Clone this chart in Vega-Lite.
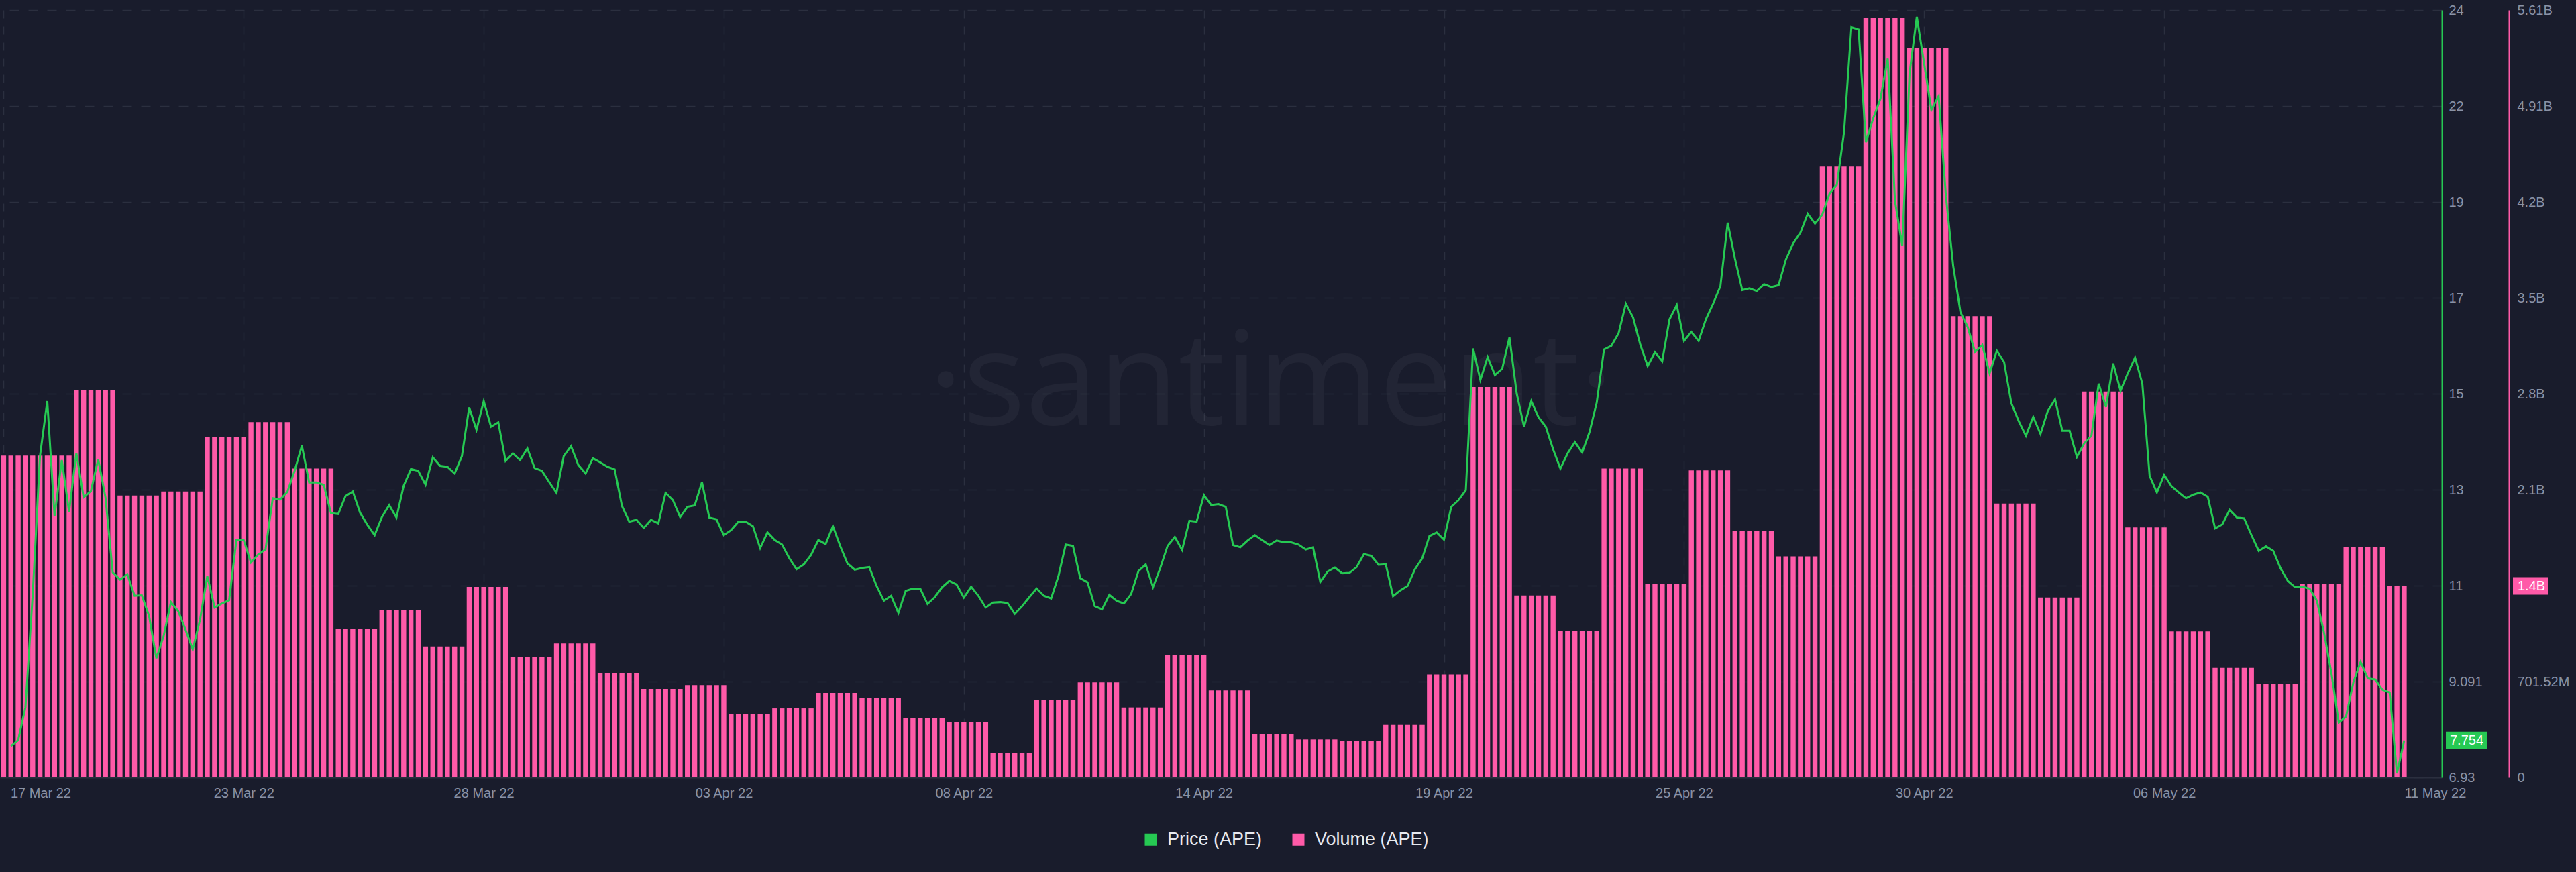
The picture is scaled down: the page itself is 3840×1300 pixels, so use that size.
{
"$schema": "https://vega.github.io/schema/vega-lite/v6.json",
"width": 3640,
"height": 1144,
"autosize": {"type": "none"},
"padding": {"left": 0, "top": 15, "right": 200, "bottom": 141},
"background": "#191c2c",
"config": {
  "view": {"stroke": null},
  "font": "Liberation Sans",
  "axis": {"labelFont": "Liberation Sans", "labelFontSize": 20, "labelColor": "#8a92a6", "title": null, "ticks": false}
},
"data": {"values": [
{"t":"2022-03-17T12:00Z","p":null,"v":2354},
{"t":"2022-03-17T16:00Z","p":7.63,"v":2354},
{"t":"2022-03-17T20:00Z","p":7.76,"v":2354},
{"t":"2022-03-18T00:00Z","p":8.49,"v":2354},
{"t":"2022-03-18T04:00Z","p":11.0,"v":2354},
{"t":"2022-03-18T08:00Z","p":14.08,"v":2354},
{"t":"2022-03-18T12:00Z","p":15.30,"v":2354},
{"t":"2022-03-18T16:00Z","p":12.75,"v":2354},
{"t":"2022-03-18T20:00Z","p":13.99,"v":2354},
{"t":"2022-03-19T00:00Z","p":12.84,"v":2354},
{"t":"2022-03-19T04:00Z","p":14.14,"v":2833},
{"t":"2022-03-19T08:00Z","p":13.16,"v":2833},
{"t":"2022-03-19T12:00Z","p":13.30,"v":2833},
{"t":"2022-03-19T16:00Z","p":14.01,"v":2833},
{"t":"2022-03-19T20:00Z","p":13.16,"v":2833},
{"t":"2022-03-20T00:00Z","p":11.49,"v":2833},
{"t":"2022-03-20T04:00Z","p":11.33,"v":2062},
{"t":"2022-03-20T08:00Z","p":11.45,"v":2062},
{"t":"2022-03-20T12:00Z","p":10.97,"v":2062},
{"t":"2022-03-20T16:00Z","p":10.98,"v":2062},
{"t":"2022-03-20T20:00Z","p":10.52,"v":2062},
{"t":"2022-03-21T00:00Z","p":9.58,"v":2062},
{"t":"2022-03-21T04:00Z","p":10.08,"v":2091},
{"t":"2022-03-21T08:00Z","p":10.83,"v":2091},
{"t":"2022-03-21T12:00Z","p":10.63,"v":2091},
{"t":"2022-03-21T16:00Z","p":10.22,"v":2091},
{"t":"2022-03-21T20:00Z","p":9.78,"v":2091},
{"t":"2022-03-22T00:00Z","p":10.44,"v":2091},
{"t":"2022-03-22T04:00Z","p":11.41,"v":2490},
{"t":"2022-03-22T08:00Z","p":10.71,"v":2490},
{"t":"2022-03-22T12:00Z","p":10.80,"v":2490},
{"t":"2022-03-22T16:00Z","p":10.87,"v":2490},
{"t":"2022-03-22T20:00Z","p":12.21,"v":2490},
{"t":"2022-03-23T00:00Z","p":12.21,"v":2490},
{"t":"2022-03-23T04:00Z","p":11.71,"v":2599},
{"t":"2022-03-23T08:00Z","p":11.89,"v":2599},
{"t":"2022-03-23T12:00Z","p":12.00,"v":2599},
{"t":"2022-03-23T16:00Z","p":13.14,"v":2599},
{"t":"2022-03-23T20:00Z","p":13.11,"v":2599},
{"t":"2022-03-24T00:00Z","p":13.28,"v":2599},
{"t":"2022-03-24T04:00Z","p":13.75,"v":2259},
{"t":"2022-03-24T08:00Z","p":14.31,"v":2259},
{"t":"2022-03-24T12:00Z","p":13.49,"v":2259},
{"t":"2022-03-24T16:00Z","p":13.49,"v":2259},
{"t":"2022-03-24T20:00Z","p":13.44,"v":2259},
{"t":"2022-03-25T00:00Z","p":12.81,"v":2259},
{"t":"2022-03-25T04:00Z","p":12.79,"v":1086},
{"t":"2022-03-25T08:00Z","p":13.19,"v":1086},
{"t":"2022-03-25T12:00Z","p":13.29,"v":1086},
{"t":"2022-03-25T16:00Z","p":12.82,"v":1086},
{"t":"2022-03-25T20:00Z","p":12.55,"v":1086},
{"t":"2022-03-26T00:00Z","p":12.32,"v":1086},
{"t":"2022-03-26T04:00Z","p":12.72,"v":1221},
{"t":"2022-03-26T08:00Z","p":12.99,"v":1221},
{"t":"2022-03-26T12:00Z","p":12.71,"v":1221},
{"t":"2022-03-26T16:00Z","p":13.42,"v":1221},
{"t":"2022-03-26T20:00Z","p":13.79,"v":1221},
{"t":"2022-03-27T00:00Z","p":13.75,"v":1221},
{"t":"2022-03-27T04:00Z","p":13.44,"v":958},
{"t":"2022-03-27T08:00Z","p":14.05,"v":958},
{"t":"2022-03-27T12:00Z","p":13.86,"v":958},
{"t":"2022-03-27T16:00Z","p":13.84,"v":958},
{"t":"2022-03-27T20:00Z","p":13.69,"v":958},
{"t":"2022-03-28T00:00Z","p":14.08,"v":958},
{"t":"2022-03-28T04:00Z","p":15.16,"v":1393},
{"t":"2022-03-28T08:00Z","p":14.66,"v":1393},
{"t":"2022-03-28T12:00Z","p":15.30,"v":1393},
{"t":"2022-03-28T16:00Z","p":14.73,"v":1393},
{"t":"2022-03-28T20:00Z","p":14.83,"v":1393},
{"t":"2022-03-29T00:00Z","p":13.97,"v":1393},
{"t":"2022-03-29T04:00Z","p":14.14,"v":881},
{"t":"2022-03-29T08:00Z","p":13.99,"v":881},
{"t":"2022-03-29T12:00Z","p":14.25,"v":881},
{"t":"2022-03-29T16:00Z","p":13.81,"v":881},
{"t":"2022-03-29T20:00Z","p":13.75,"v":881},
{"t":"2022-03-30T00:00Z","p":13.50,"v":881},
{"t":"2022-03-30T04:00Z","p":13.26,"v":980},
{"t":"2022-03-30T08:00Z","p":14.08,"v":980},
{"t":"2022-03-30T12:00Z","p":14.30,"v":980},
{"t":"2022-03-30T16:00Z","p":13.88,"v":980},
{"t":"2022-03-30T20:00Z","p":13.69,"v":980},
{"t":"2022-03-31T00:00Z","p":14.03,"v":980},
{"t":"2022-03-31T04:00Z","p":13.94,"v":764},
{"t":"2022-03-31T08:00Z","p":13.84,"v":764},
{"t":"2022-03-31T12:00Z","p":13.78,"v":764},
{"t":"2022-03-31T16:00Z","p":12.97,"v":764},
{"t":"2022-03-31T20:00Z","p":12.62,"v":764},
{"t":"2022-04-01T00:00Z","p":12.66,"v":764},
{"t":"2022-04-01T04:00Z","p":12.48,"v":647},
{"t":"2022-04-01T08:00Z","p":12.66,"v":647},
{"t":"2022-04-01T12:00Z","p":12.58,"v":647},
{"t":"2022-04-01T16:00Z","p":13.26,"v":647},
{"t":"2022-04-01T20:00Z","p":13.10,"v":647},
{"t":"2022-04-02T00:00Z","p":12.72,"v":647},
{"t":"2022-04-02T04:00Z","p":12.95,"v":676},
{"t":"2022-04-02T08:00Z","p":12.98,"v":676},
{"t":"2022-04-02T12:00Z","p":13.50,"v":676},
{"t":"2022-04-02T16:00Z","p":12.71,"v":676},
{"t":"2022-04-02T20:00Z","p":12.67,"v":676},
{"t":"2022-04-03T00:00Z","p":12.32,"v":676},
{"t":"2022-04-03T04:00Z","p":12.43,"v":464},
{"t":"2022-04-03T08:00Z","p":12.62,"v":464},
{"t":"2022-04-03T12:00Z","p":12.62,"v":464},
{"t":"2022-04-03T16:00Z","p":12.52,"v":464},
{"t":"2022-04-03T20:00Z","p":12.03,"v":464},
{"t":"2022-04-04T00:00Z","p":12.38,"v":464},
{"t":"2022-04-04T04:00Z","p":12.21,"v":505},
{"t":"2022-04-04T08:00Z","p":12.11,"v":505},
{"t":"2022-04-04T12:00Z","p":11.81,"v":505},
{"t":"2022-04-04T16:00Z","p":11.56,"v":505},
{"t":"2022-04-04T20:00Z","p":11.67,"v":505},
{"t":"2022-04-05T00:00Z","p":11.88,"v":505},
{"t":"2022-04-05T04:00Z","p":12.21,"v":618},
{"t":"2022-04-05T08:00Z","p":12.12,"v":618},
{"t":"2022-04-05T12:00Z","p":12.52,"v":618},
{"t":"2022-04-05T16:00Z","p":12.08,"v":618},
{"t":"2022-04-05T20:00Z","p":11.69,"v":618},
{"t":"2022-04-06T00:00Z","p":11.55,"v":618},
{"t":"2022-04-06T04:00Z","p":11.59,"v":581},
{"t":"2022-04-06T08:00Z","p":11.61,"v":581},
{"t":"2022-04-06T12:00Z","p":11.19,"v":581},
{"t":"2022-04-06T16:00Z","p":10.86,"v":581},
{"t":"2022-04-06T20:00Z","p":10.97,"v":581},
{"t":"2022-04-07T00:00Z","p":10.59,"v":581},
{"t":"2022-04-07T04:00Z","p":11.08,"v":435},
{"t":"2022-04-07T08:00Z","p":11.13,"v":435},
{"t":"2022-04-07T12:00Z","p":11.13,"v":435},
{"t":"2022-04-07T16:00Z","p":10.79,"v":435},
{"t":"2022-04-07T20:00Z","p":10.94,"v":435},
{"t":"2022-04-08T00:00Z","p":11.16,"v":435},
{"t":"2022-04-08T04:00Z","p":11.30,"v":406},
{"t":"2022-04-08T08:00Z","p":11.22,"v":406},
{"t":"2022-04-08T12:00Z","p":10.93,"v":406},
{"t":"2022-04-08T16:00Z","p":11.17,"v":406},
{"t":"2022-04-08T20:00Z","p":10.97,"v":406},
{"t":"2022-04-09T00:00Z","p":10.71,"v":406},
{"t":"2022-04-09T04:00Z","p":10.82,"v":179},
{"t":"2022-04-09T08:00Z","p":10.83,"v":179},
{"t":"2022-04-09T12:00Z","p":10.81,"v":179},
{"t":"2022-04-09T16:00Z","p":10.57,"v":179},
{"t":"2022-04-09T20:00Z","p":10.74,"v":179},
{"t":"2022-04-10T00:00Z","p":10.94,"v":179},
{"t":"2022-04-10T04:00Z","p":11.13,"v":567},
{"t":"2022-04-10T08:00Z","p":10.97,"v":567},
{"t":"2022-04-10T12:00Z","p":10.91,"v":567},
{"t":"2022-04-10T16:00Z","p":11.41,"v":567},
{"t":"2022-04-10T20:00Z","p":12.11,"v":567},
{"t":"2022-04-11T00:00Z","p":12.08,"v":567},
{"t":"2022-04-11T04:00Z","p":11.36,"v":695},
{"t":"2022-04-11T08:00Z","p":11.27,"v":695},
{"t":"2022-04-11T12:00Z","p":10.74,"v":695},
{"t":"2022-04-11T16:00Z","p":10.67,"v":695},
{"t":"2022-04-11T20:00Z","p":10.99,"v":695},
{"t":"2022-04-12T00:00Z","p":10.86,"v":695},
{"t":"2022-04-12T04:00Z","p":10.80,"v":512},
{"t":"2022-04-12T08:00Z","p":11.01,"v":512},
{"t":"2022-04-12T12:00Z","p":11.52,"v":512},
{"t":"2022-04-12T16:00Z","p":11.67,"v":512},
{"t":"2022-04-12T20:00Z","p":11.16,"v":512},
{"t":"2022-04-13T00:00Z","p":11.59,"v":512},
{"t":"2022-04-13T04:00Z","p":12.08,"v":896},
{"t":"2022-04-13T08:00Z","p":12.28,"v":896},
{"t":"2022-04-13T12:00Z","p":11.99,"v":896},
{"t":"2022-04-13T16:00Z","p":12.64,"v":896},
{"t":"2022-04-13T20:00Z","p":12.62,"v":896},
{"t":"2022-04-14T00:00Z","p":13.21,"v":896},
{"t":"2022-04-14T04:00Z","p":12.99,"v":636},
{"t":"2022-04-14T08:00Z","p":13.01,"v":636},
{"t":"2022-04-14T12:00Z","p":12.95,"v":636},
{"t":"2022-04-14T16:00Z","p":12.10,"v":636},
{"t":"2022-04-14T20:00Z","p":12.05,"v":636},
{"t":"2022-04-15T00:00Z","p":12.20,"v":636},
{"t":"2022-04-15T04:00Z","p":12.32,"v":318},
{"t":"2022-04-15T08:00Z","p":12.21,"v":318},
{"t":"2022-04-15T12:00Z","p":12.10,"v":318},
{"t":"2022-04-15T16:00Z","p":12.20,"v":318},
{"t":"2022-04-15T20:00Z","p":12.16,"v":318},
{"t":"2022-04-16T00:00Z","p":12.16,"v":318},
{"t":"2022-04-16T04:00Z","p":12.11,"v":278},
{"t":"2022-04-16T08:00Z","p":12.00,"v":278},
{"t":"2022-04-16T12:00Z","p":12.05,"v":278},
{"t":"2022-04-16T16:00Z","p":11.28,"v":278},
{"t":"2022-04-16T20:00Z","p":11.51,"v":278},
{"t":"2022-04-17T00:00Z","p":11.60,"v":278},
{"t":"2022-04-17T04:00Z","p":11.47,"v":267},
{"t":"2022-04-17T08:00Z","p":11.48,"v":267},
{"t":"2022-04-17T12:00Z","p":11.61,"v":267},
{"t":"2022-04-17T16:00Z","p":11.90,"v":267},
{"t":"2022-04-17T20:00Z","p":11.86,"v":267},
{"t":"2022-04-18T00:00Z","p":11.66,"v":267},
{"t":"2022-04-18T04:00Z","p":11.67,"v":384},
{"t":"2022-04-18T08:00Z","p":10.96,"v":384},
{"t":"2022-04-18T12:00Z","p":11.09,"v":384},
{"t":"2022-04-18T16:00Z","p":11.19,"v":384},
{"t":"2022-04-18T20:00Z","p":11.56,"v":384},
{"t":"2022-04-19T00:00Z","p":11.80,"v":384},
{"t":"2022-04-19T04:00Z","p":12.30,"v":753},
{"t":"2022-04-19T08:00Z","p":12.38,"v":753},
{"t":"2022-04-19T12:00Z","p":12.22,"v":753},
{"t":"2022-04-19T16:00Z","p":12.95,"v":753},
{"t":"2022-04-19T20:00Z","p":13.10,"v":753},
{"t":"2022-04-20T00:00Z","p":13.32,"v":753},
{"t":"2022-04-20T04:00Z","p":16.47,"v":2855},
{"t":"2022-04-20T08:00Z","p":15.77,"v":2855},
{"t":"2022-04-20T12:00Z","p":16.28,"v":2855},
{"t":"2022-04-20T16:00Z","p":15.88,"v":2855},
{"t":"2022-04-20T20:00Z","p":16.02,"v":2855},
{"t":"2022-04-21T00:00Z","p":16.72,"v":2855},
{"t":"2022-04-21T04:00Z","p":15.47,"v":1331},
{"t":"2022-04-21T08:00Z","p":14.73,"v":1331},
{"t":"2022-04-21T12:00Z","p":15.30,"v":1331},
{"t":"2022-04-21T16:00Z","p":14.94,"v":1331},
{"t":"2022-04-21T20:00Z","p":14.73,"v":1331},
{"t":"2022-04-22T00:00Z","p":14.23,"v":1331},
{"t":"2022-04-22T04:00Z","p":13.80,"v":1071},
{"t":"2022-04-22T08:00Z","p":14.14,"v":1071},
{"t":"2022-04-22T12:00Z","p":14.39,"v":1071},
{"t":"2022-04-22T16:00Z","p":14.16,"v":1071},
{"t":"2022-04-22T20:00Z","p":14.61,"v":1071},
{"t":"2022-04-23T00:00Z","p":15.27,"v":1071},
{"t":"2022-04-23T04:00Z","p":16.45,"v":2259},
{"t":"2022-04-23T08:00Z","p":16.53,"v":2259},
{"t":"2022-04-23T12:00Z","p":16.81,"v":2259},
{"t":"2022-04-23T16:00Z","p":17.47,"v":2259},
{"t":"2022-04-23T20:00Z","p":17.16,"v":2259},
{"t":"2022-04-24T00:00Z","p":16.55,"v":2259},
{"t":"2022-04-24T04:00Z","p":16.08,"v":1415},
{"t":"2022-04-24T08:00Z","p":16.39,"v":1415},
{"t":"2022-04-24T12:00Z","p":16.19,"v":1415},
{"t":"2022-04-24T16:00Z","p":17.12,"v":1415},
{"t":"2022-04-24T20:00Z","p":17.44,"v":1415},
{"t":"2022-04-25T00:00Z","p":16.64,"v":1415},
{"t":"2022-04-25T04:00Z","p":16.84,"v":2245},
{"t":"2022-04-25T08:00Z","p":16.64,"v":2245},
{"t":"2022-04-25T12:00Z","p":17.12,"v":2245},
{"t":"2022-04-25T16:00Z","p":17.47,"v":2245},
{"t":"2022-04-25T20:00Z","p":17.86,"v":2245},
{"t":"2022-04-26T00:00Z","p":19.27,"v":2245},
{"t":"2022-04-26T04:00Z","p":18.47,"v":1802},
{"t":"2022-04-26T08:00Z","p":17.77,"v":1802},
{"t":"2022-04-26T12:00Z","p":17.81,"v":1802},
{"t":"2022-04-26T16:00Z","p":17.75,"v":1802},
{"t":"2022-04-26T20:00Z","p":17.90,"v":1802},
{"t":"2022-04-27T00:00Z","p":17.84,"v":1802},
{"t":"2022-04-27T04:00Z","p":17.88,"v":1616},
{"t":"2022-04-27T08:00Z","p":18.45,"v":1616},
{"t":"2022-04-27T12:00Z","p":18.81,"v":1616},
{"t":"2022-04-27T16:00Z","p":19.05,"v":1616},
{"t":"2022-04-27T20:00Z","p":19.47,"v":1616},
{"t":"2022-04-28T00:00Z","p":19.25,"v":1616},
{"t":"2022-04-28T04:00Z","p":19.45,"v":4468},
{"t":"2022-04-28T08:00Z","p":19.92,"v":4468},
{"t":"2022-04-28T12:00Z","p":20.11,"v":4468},
{"t":"2022-04-28T16:00Z","p":21.29,"v":4468},
{"t":"2022-04-28T20:00Z","p":23.62,"v":4468},
{"t":"2022-04-29T00:00Z","p":23.57,"v":4468},
{"t":"2022-04-29T04:00Z","p":21.06,"v":5553},
{"t":"2022-04-29T08:00Z","p":21.59,"v":5553},
{"t":"2022-04-29T12:00Z","p":22.03,"v":5553},
{"t":"2022-04-29T16:00Z","p":22.92,"v":5553},
{"t":"2022-04-29T20:00Z","p":19.75,"v":5553},
{"t":"2022-04-30T00:00Z","p":18.75,"v":5553},
{"t":"2022-04-30T04:00Z","p":22.59,"v":5334},
{"t":"2022-04-30T08:00Z","p":23.85,"v":5334},
{"t":"2022-04-30T12:00Z","p":22.81,"v":5334},
{"t":"2022-04-30T16:00Z","p":21.78,"v":5334},
{"t":"2022-04-30T20:00Z","p":22.09,"v":5334},
{"t":"2022-05-01T00:00Z","p":19.86,"v":5334},
{"t":"2022-05-01T04:00Z","p":18.31,"v":3374},
{"t":"2022-05-01T08:00Z","p":17.28,"v":3374},
{"t":"2022-05-01T12:00Z","p":16.95,"v":3374},
{"t":"2022-05-01T16:00Z","p":16.39,"v":3374},
{"t":"2022-05-01T20:00Z","p":16.55,"v":3374},
{"t":"2022-05-02T00:00Z","p":15.92,"v":3374},
{"t":"2022-05-02T04:00Z","p":16.42,"v":2003},
{"t":"2022-05-02T08:00Z","p":16.17,"v":2003},
{"t":"2022-05-02T12:00Z","p":15.25,"v":2003},
{"t":"2022-05-02T16:00Z","p":14.86,"v":2003},
{"t":"2022-05-02T20:00Z","p":14.53,"v":2003},
{"t":"2022-05-03T00:00Z","p":14.95,"v":2003},
{"t":"2022-05-03T04:00Z","p":14.57,"v":1316},
{"t":"2022-05-03T08:00Z","p":15.08,"v":1316},
{"t":"2022-05-03T12:00Z","p":15.34,"v":1316},
{"t":"2022-05-03T16:00Z","p":14.64,"v":1316},
{"t":"2022-05-03T20:00Z","p":14.64,"v":1316},
{"t":"2022-05-04T00:00Z","p":14.06,"v":1316},
{"t":"2022-05-04T04:00Z","p":14.36,"v":2822},
{"t":"2022-05-04T08:00Z","p":14.53,"v":2822},
{"t":"2022-05-04T12:00Z","p":15.69,"v":2822},
{"t":"2022-05-04T16:00Z","p":15.17,"v":2822},
{"t":"2022-05-04T20:00Z","p":16.14,"v":2822},
{"t":"2022-05-05T00:00Z","p":15.53,"v":2822},
{"t":"2022-05-05T04:00Z","p":15.92,"v":1828},
{"t":"2022-05-05T08:00Z","p":16.27,"v":1828},
{"t":"2022-05-05T12:00Z","p":15.69,"v":1828},
{"t":"2022-05-05T16:00Z","p":13.64,"v":1828},
{"t":"2022-05-05T20:00Z","p":13.27,"v":1828},
{"t":"2022-05-06T00:00Z","p":13.66,"v":1828},
{"t":"2022-05-06T04:00Z","p":13.41,"v":1068},
{"t":"2022-05-06T08:00Z","p":13.27,"v":1068},
{"t":"2022-05-06T12:00Z","p":13.14,"v":1068},
{"t":"2022-05-06T16:00Z","p":13.22,"v":1068},
{"t":"2022-05-06T20:00Z","p":13.27,"v":1068},
{"t":"2022-05-07T00:00Z","p":13.17,"v":1068},
{"t":"2022-05-07T04:00Z","p":12.47,"v":801},
{"t":"2022-05-07T08:00Z","p":12.56,"v":801},
{"t":"2022-05-07T12:00Z","p":12.88,"v":801},
{"t":"2022-05-07T16:00Z","p":12.71,"v":801},
{"t":"2022-05-07T20:00Z","p":12.69,"v":801},
{"t":"2022-05-08T00:00Z","p":12.32,"v":801},
{"t":"2022-05-08T04:00Z","p":11.97,"v":684},
{"t":"2022-05-08T08:00Z","p":12.07,"v":684},
{"t":"2022-05-08T12:00Z","p":11.97,"v":684},
{"t":"2022-05-08T16:00Z","p":11.58,"v":684},
{"t":"2022-05-08T20:00Z","p":11.30,"v":684},
{"t":"2022-05-09T00:00Z","p":11.16,"v":684},
{"t":"2022-05-09T04:00Z","p":11.17,"v":1415},
{"t":"2022-05-09T08:00Z","p":11.13,"v":1415},
{"t":"2022-05-09T12:00Z","p":10.86,"v":1415},
{"t":"2022-05-09T16:00Z","p":10.13,"v":1415},
{"t":"2022-05-09T20:00Z","p":9.24,"v":1415},
{"t":"2022-05-10T00:00Z","p":8.15,"v":1415},
{"t":"2022-05-10T04:00Z","p":8.28,"v":1685},
{"t":"2022-05-10T08:00Z","p":9.04,"v":1685},
{"t":"2022-05-10T12:00Z","p":9.50,"v":1685},
{"t":"2022-05-10T16:00Z","p":9.13,"v":1685},
{"t":"2022-05-10T20:00Z","p":9.11,"v":1685},
{"t":"2022-05-11T00:00Z","p":8.88,"v":1685},
{"t":"2022-05-11T04:00Z","p":8.82,"v":1400},
{"t":"2022-05-11T08:00Z","p":7.02,"v":1400},
{"t":"2022-05-11T12:00Z","p":7.754,"v":1400}
]},
"encoding": {
  "x": {
    "field": "t", "type": "temporal",
    "scale": {"type": "utc", "domain": [
      {"year": 2022, "month": 3, "date": 17, "hours": 11, "minutes": 51, "seconds": 10, "utc": true},
      {"year": 2022, "month": 5, "date": 12, "hours": 6, "minutes": 50, "utc": true}
    ]},
    "axis": {
      "title": null,
      "values": [
        {"year": 2022, "month": 3, "date": 17, "hours": 12, "utc": true},
        {"year": 2022, "month": 3, "date": 23, "hours": 0, "utc": true},
        {"year": 2022, "month": 3, "date": 28, "hours": 12, "utc": true},
        {"year": 2022, "month": 4, "date": 3, "hours": 0, "utc": true},
        {"year": 2022, "month": 4, "date": 8, "hours": 12, "utc": true},
        {"year": 2022, "month": 4, "date": 14, "hours": 0, "utc": true},
        {"year": 2022, "month": 4, "date": 19, "hours": 12, "utc": true},
        {"year": 2022, "month": 4, "date": 25, "hours": 0, "utc": true},
        {"year": 2022, "month": 4, "date": 30, "hours": 12, "utc": true},
        {"year": 2022, "month": 5, "date": 6, "hours": 0, "utc": true},
        {"year": 2022, "month": 5, "date": 11, "hours": 12, "utc": true}
      ],
      "format": "%d %b %y",
      "labelAlign": {"condition": {"test": "datum.value < 1647600000000 || datum.value > 1652000000000", "value": "left"}, "value": "center"},
      "labelOffset": {"condition": {"test": "datum.value < 1647600000000", "value": 10}, "value": 0},
      "labelPadding": 13,
      "labelFontSize": 20,
      "labelOverlap": false,
      "grid": true,
      "gridColor": "#2b2f3f",
      "gridDash": [12, 12],
      "gridWidth": 1.5,
      "gridOpacity": {"condition": {"test": "datum.value > 1652000000000", "value": 0}, "value": 1},
      "domain": true,
      "domainColor": "#2b2f3f",
      "domainWidth": 2
    }
  }
},
"layer": [
  {
    "layer": [
      {
        "data": {"values": [{"t": "2022-04-15T13:00Z", "label": "·santiment·"}]},
        "mark": {"type": "text", "font": "Open Sans", "fontSize": 195, "align": "center", "baseline": "alphabetic", "fill": "#ffffff", "fillOpacity": 0.045},
        "encoding": {
          "x": {"field": "t", "type": "temporal"},
          "y": {"datum": 2580, "type": "quantitative"},
          "text": {"field": "label", "type": "nominal"}
        }
      },
      {
        "mark": {"type": "bar", "width": 7.4, "clip": true},
        "encoding": {
          "y": {
            "field": "v", "type": "quantitative",
            "scale": {"domain": [0, 5612.16], "nice": false, "zero": true},
            "axis": {
              "orient": "right", "offset": 100, "title": null,
              "values": [0, 701.52, 1403.04, 2104.56, 2806.08, 3507.6, 4209.12, 4910.64, 5612.16],
              "labelExpr": "datum.value < 1 ? '0' : datum.value < 1000 ? '701.52M' : datum.value < 1500 ? '1.4B' : datum.value < 2200 ? '2.1B' : datum.value < 2900 ? '2.8B' : datum.value < 3600 ? '3.5B' : datum.value < 4300 ? '4.2B' : datum.value < 5000 ? '4.91B' : '5.61B'",
              "grid": false,
              "domain": true, "domainColor": "#ff5aa8", "domainWidth": 2,
              "labelPadding": 12, "labelFontSize": 20
            }
          },
          "color": {
            "datum": "Volume (APE)", "type": "nominal",
            "scale": {"domain": ["Price (APE)", "Volume (APE)"], "range": ["#26c953", "#ff5aa8"]},
            "legend": {
              "orient": "none", "legendX": 1702, "legendY": 1223,
              "direction": "horizontal", "title": null,
              "symbolType": "square", "symbolSize": 324, "symbolStrokeWidth": 0,
              "labelFontSize": 27, "labelFont": "Liberation Sans", "labelColor": "#e8eaf0",
              "labelLimit": 500,
              "labelOffset": 11, "columnPadding": 40,
              "encode": {"symbols": {"update": {"fill": {"scale": "color", "field": "value"}, "stroke": {"value": "transparent"}, "opacity": {"value": 1}}}}
            }
          }
        }
      },
      {
        "data": {"values": [{"v": 1400, "label": "1.4B"}]},
        "mark": {"type": "rect", "fill": "#ff5aa8", "xOffset": 106, "x2Offset": 159, "yOffset": -13, "y2Offset": 13},
        "encoding": {
          "x": {"value": "width"},
          "x2": {"value": "width"},
          "y": {"field": "v", "type": "quantitative"},
          "y2": {"field": "v"}
        }
      },
      {
        "data": {"values": [{"v": 1400, "label": "1.4B"}]},
        "mark": {"type": "text", "fill": "#ffffff", "font": "Liberation Sans", "fontSize": 20, "align": "left", "baseline": "middle", "xOffset": 113},
        "encoding": {
          "x": {"value": "width"},
          "y": {"field": "v", "type": "quantitative"},
          "text": {"field": "label"}
        }
      }
    ]
  },
  {
    "layer": [
      {
        "mark": {"type": "line", "strokeWidth": 3, "interpolate": "linear"},
        "encoding": {
          "y": {
            "field": "p", "type": "quantitative",
            "scale": {"domain": [6.93, 24], "nice": false, "zero": false},
            "axis": {
              "orient": "right", "offset": 0, "title": null,
              "values": [6.93, 9.06375, 11.1975, 13.33125, 15.465, 17.59875, 19.7325, 21.86625, 24],
              "labelExpr": "datum.value < 8 ? '6.93' : datum.value < 10 ? '9.091' : datum.value < 12 ? '11' : datum.value < 14 ? '13' : datum.value < 16 ? '15' : datum.value < 18 ? '17' : datum.value < 20 ? '19' : datum.value < 23 ? '22' : '24'",
              "grid": true, "gridColor": "#2b2f3f", "gridDash": [14, 14], "gridWidth": 1.5,
              "domain": true, "domainColor": "#26c953", "domainWidth": 2,
              "labelPadding": 10, "labelFontSize": 20
            }
          },
          "color": {"datum": "Price (APE)", "type": "nominal"}
        }
      },
      {
        "data": {"values": [{"p": 7.754, "label": "7.754"}]},
        "mark": {"type": "rect", "fill": "#26c953", "xOffset": 6, "x2Offset": 68, "yOffset": -13, "y2Offset": 13},
        "encoding": {
          "x": {"value": "width"},
          "x2": {"value": "width"},
          "y": {"field": "p", "type": "quantitative"},
          "y2": {"field": "p"}
        }
      },
      {
        "data": {"values": [{"p": 7.754, "label": "7.754"}]},
        "mark": {"type": "text", "fill": "#ffffff", "font": "Liberation Sans", "fontSize": 20, "align": "left", "baseline": "middle", "xOffset": 12},
        "encoding": {
          "x": {"value": "width"},
          "y": {"field": "p", "type": "quantitative"},
          "text": {"field": "label"}
        }
      }
    ]
  }
],
"resolve": {"scale": {"y": "independent"}, "axis": {"y": "independent"}}
}
